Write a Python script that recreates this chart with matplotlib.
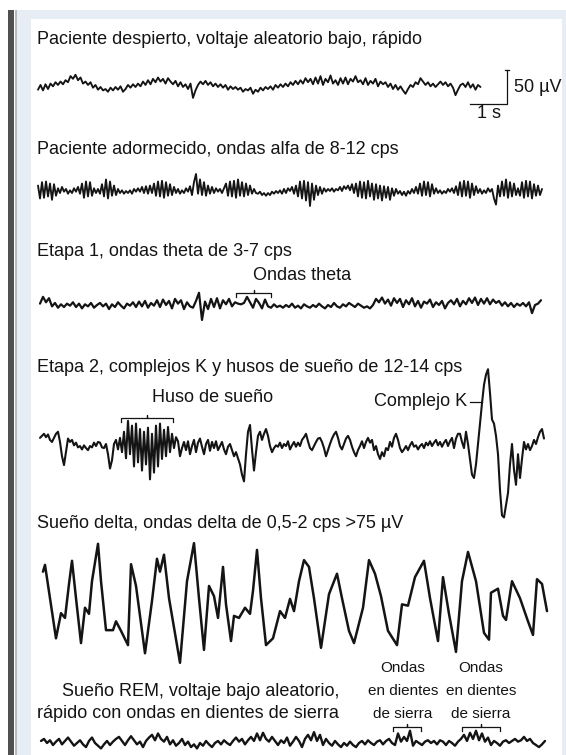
import numpy as np
import matplotlib.pyplot as plt
from matplotlib.patches import Rectangle

plt.rcParams['font.family'] = ['Liberation Sans', 'DejaVu Sans']

W, H = 566, 755
PX_PER_S = 37.0      # 1 s de la barra de escala
PX_PER_UV = 0.68     # 50 uV = 34 px

# ---------------- datos (uV) ----------------
# despierto: intervalo de muestra ~0.068 s
awake_dt = 2.5 / PX_PER_S
awake_uv = [-4, 3, -5, 4, -3, 5, 1, 7, 3, 8,
            4, 10, 7, 16, 12, 18, 10, 14, 5, 8,
            3, 7, -1, 3, -4, 0, -5, -3, -7, -1,
            -5, 0, -4, 1, -7, -3, 3, -1, 4, 0,
            5, 1, 8, 3, 10, 4, 12, 7, 14, 8,
            12, 5, 13, 8, 4, 9, 1, 7, 0, 4,
            -3, 5, -16, -5, 3, 8, 4, 9, 3, 7,
            1, 5, 0, 4, -1, 3, -4, 1, -3, 0,
            -4, -1, -7, -3, -5, -1, -10, -4, -7, -1,
            -5, 0, -3, 1, -4, 3, -1, 4, 0, 5,
            1, 7, 3, 9, 4, 10, 5, 13, 7, 12,
            4, 14, 5, 16, 3, 12, 7, 17, 5, 10,
            3, 13, 5, 14, 4, 12, 8, 16, 7, 10,
            4, 13, 3, 9, 5, 12, 1, 8, 4, 7,
            0, 5, -3, 3, -4, 1, -5, -10, -3, 3,
            0, 7, 4, 13, 8, 3, 7, 1, 5, 0,
            4, 8, 3, 7, 1, 5, -1, -12, -4, 3,
            5, 0, 7, -1, 4, -4, 3, 0]

# adormecido, alfa
alpha_dt = 2.0 / PX_PER_S
alpha_uv = [8, -11, 13, -10, 14, -8, 11, -13, 10, -7,
            4, -3, 6, -1, 3, -4, 1, -3, 4, -1,
            6, -4, 11, -10, 14, -8, 13, -7, 4, -3,
            3, -4, 10, -8, 17, -11, 14, -7, 8, -6,
            3, -3, 1, -4, 0, -3, 1, -4, 3, -1,
            4, -1, 6, -3, 7, -4, 8, -3, 11, -7,
            14, -8, 15, -10, 13, -7, 10, -6, 6, -3,
            3, -4, 1, -3, 4, -1, 7, -6, 13, 25,
            -4, 17, -6, 13, -7, 8, -4, 6, -3, 4,
            -1, 3, -3, 4, 11, -7, 14, -8, 15, -10,
            17, -7, 13, -8, 11, -6, 8, -4, 3, -3,
            -4, -1, -6, -3, -7, -3, -6, -1, -4, 0,
            -3, 1, -4, 3, -3, 4, 0, 6, -4, 8,
            -8, 14, -11, 15, -14, 13, -22, 11, -13, 8,
            -6, 6, -4, 4, -1, 3, 0, 4, -1, 3,
            1, 6, 0, 7, 3, 8, 1, 10, -3, 11,
            -8, 14, -10, 13, -11, 15, -8, 11, -13, 10,
            -11, 8, -14, 7, -10, 6, -13, 4, -7, 3,
            -4, 0, -6, -1, -7, 0, -4, 3, -3, 6,
            -4, 11, -7, 14, -6, 13, -8, 10, -4, 4,
            -3, 1, -4, 0, -3, 3, -1, 4, -3, 7,
            -6, 13, -8, 15, -7, 14, -10, 11, -6, 7,
            -3, 3, -4, 1, -3, 4, -1, 3, -11, -20,
            8, -8, 14, -7, 17, -10, 13, -8, 11, -6,
            4, -7, 13, -10, 15, -8, 14, -11, 10, -7,
            8, -6, 3]

# etapa 1, theta
theta_dt = 3.0 / PX_PER_S
theta_uv = [2, 12, 4, 10, -2, 3, -4, 1, -3, 2,
            -1, 4, -3, 2, -5, 1, -2, 3, -4, 0,
            3, -2, 2, -6, 1, -3, 4, -1, -5, 2,
            -1, 4, -3, 5, -2, 6, -4, 3, -1, 7,
            -3, 8, 0, 6, -5, 9, 2, 7, -6, 4,
            -2, -4, 6, 18, -22, 5, -6, 9, -3, 10,
            -5, 7, 1, 9, -2, 4, 2, 1, 3, 12,
            4, -4, 9, 3, -5, 8, -2, -4, 1, -3,
            -1, -4, 0, -3, 2, -4, -1, -5, 1, -2,
            -4, 0, -3, 2, -2, -5, 0, -3, 3, -2,
            -4, 1, -2, 3, 0, -3, 2, -1, -4, -2,
            -5, 0, 9, 4, 11, 2, 8, -1, 10, 3,
            9, -3, 7, 1, 10, -2, 6, -4, 5, 2,
            8, -3, 4, 0, 6, -5, 3, 7, 1, 9,
            -2, 6, 1, 10, 3, 11, 0, 9, 2, 10,
            1, 8, 3, 6, -1, 4, -2, 3, -3, 2,
            -1, 3, -2, 4, -12, 0, 2, 7]

# etapa 2, husos y complejo K
stage2_dt = 2.0 / PX_PER_S
stage2_uv = [9, 12, 15, 10, 14, 6, 3, 9, 15, 18,
             3, -18, -31, -12, 8, 3, 6, -2, 2, -5,
             -3, -8, -2, -6, -9, -3, -5, 2, -3, 3,
             2, -5, -6, 0, -15, -36, -24, 0, 6, -8,
             9, -12, 18, -21, 34, -15, 27, -33, 30, -27,
             22, -39, 18, -30, 24, -52, 15, -42, 27, -33,
             30, -22, 21, -18, 25, -12, 15, -6, 10, 4,
             -18, -6, 3, -9, 4, -15, -3, 6, -12, 2,
             8, -4, -15, 0, 6, -10, 3, -6, 4, -9,
             -3, 3, -8, -15, -4, 0, -9, -18, -12, -21,
             -30, -45, -55, -15, 18, 28, -8, -39, -12, 12,
             18, 6, 15, 22, 12, -3, -12, -6, -2, -4,
             2, -6, 0, -3, 4, -8, -2, 3, -4, 2,
             -3, 6, 10, 15, 4, -6, -9, -3, 3, 8,
             9, 3, -6, -18, -9, 0, 8, 14, 18, 9,
             -3, -8, 0, 8, 12, 6, -4, -12, -18, -9,
             -3, 4, -6, 3, 9, 2, 6, -9, -3, -15,
             -22, -12, -18, -6, -9, 3, -4, 9, 15, 6,
             -6, -12, -8, -3, -9, -2, 3, -4, -2, -8,
             -3, 0, -6, 2, -2, 4, -3, 2, 6, -2,
             3, -4, 2, 6, -3, 4, 9, -6, 8, 15,
             15, 3, -6, 18, 0, -22, -45, -50, -30, 0,
             30, 60, 87, 102, 110, 75, 36, 30, 12, -15,
             -68, -105, -108, -90, -72, -30, 0, -38, -60, -15,
             -50, -22, 3, -8, 0, -9, -3, 6, 0, 10,
             18, 22, 8]

# sueño delta (vertices, s / uV)
delta_t = [0.135, 0.189, 0.324, 0.486, 0.622, 0.730, 0.838, 0.919, 1.027, 1.162,
           1.270, 1.378, 1.459, 1.622, 1.703, 1.838, 2.027, 2.108, 2.243, 2.432,
           2.514, 2.649, 2.892, 3.081, 3.216, 3.297, 3.405, 3.541, 3.838, 4.027,
           4.216, 4.351, 4.486, 4.622, 4.757, 4.865, 5.000, 5.081, 5.216, 5.297,
           5.432, 5.595, 5.730, 5.811, 5.919, 6.027, 6.162, 6.351, 6.541, 6.676,
           6.811, 6.919, 7.054, 7.189, 7.324, 7.459, 7.649, 7.865, 8.081, 8.216,
           8.405, 8.541, 8.784, 8.946, 9.108, 9.270, 9.459, 9.703, 9.838, 10.000,
           10.189, 10.432, 10.595, 10.811, 10.946, 11.108, 11.297, 11.459, 11.622, 11.838,
           12.054, 12.189, 12.243, 12.432, 12.568, 12.649, 12.811, 13.027, 13.243, 13.378,
           13.486, 13.622, 13.757]
delta_uv = [49, 59, 10, -49, -12, -19, 31, 65, 10, -56,
            -4, -13, 35, 90, 35, -37, -37, -24, -38, -59,
            60, 28, -71, 6, 68, 49, 74, 10, -85, 35,
            91, 10, -66, 28, 13, -19, 56, 1, -53, -16,
            -19, -4, -13, 21, 81, 10, -59, -49, -9, -19,
            9, -9, 35, 66, 56, 10, -63, 16, 46, 10,
            -38, -56, -4, 66, 46, 13, -38, -59, 1, -1,
            41, 65, 10, -53, 41, -13, -69, 35, 78, 35,
            -41, -51, 18, 24, -16, -22, 35, 10, -24, -44,
            38, 31, -9]

# sueño REM
rem_dt = 3.0 / PX_PER_S
rem_uv = [3, 6, 0, 4, -3, 2, 6, -2, 3, 8,
          2, -4, 0, 4, -2, -6, 3, 8, 0, -4,
          -8, -2, 3, -3, 2, 6, 9, 3, -3, 4,
          10, 4, -2, 2, -6, 3, 8, 12, 4, 14,
          6, 2, 9, -2, 4, -4, 0, 6, -3, 2,
          -6, -2, -8, 0, -4, 3, -2, -6, 0, 3,
          -2, 4, 0, -3, 3, 8, 2, 6, -2, 4,
          9, 3, 14, 4, 15, 6, 2, 9, 3, -3,
          4, 0, 8, -4, 2, 9, 3, -6, 6, 12,
          4, 16, 3, 12, -3, 6, 0, -4, 3, -2,
          -6, 0, -4, 2, -3, -6, 0, 3, -2, 4,
          0, -3, 2, 4, -2, 3, 6, 0, -3, 14,
          2, 9, 3, 18, -4, 3, 0, -3, 2, 4,
          0, 3, -2, 4, 2, -3, 3, 0, -4, 2,
          6, 12, 3, 15, 6, 18, 4, 14, 2, 8,
          -3, 3, 0, -4, 2, 4, 0, 3, 6, 2,
          4, 9, 3, 6, 0, -3, -6, -2, 3]

titles = ["Paciente despierto, voltaje aleatorio bajo, rápido",
          "Paciente adormecido, ondas alfa de 8-12 cps",
          "Etapa 1, ondas theta de 3-7 cps",
          "Etapa 2, complejos K y husos de sueño de 12-14 cps",
          "Sueño delta, ondas delta de 0,5-2 cps >75 µV"]

INK = '#141414'

fig = plt.figure(figsize=(W / 100, H / 100), dpi=100)
fig.patch.set_facecolor('white')


def px_rect(x0, y0, x1, y1, color):
    fig.add_artist(Rectangle((x0 / W, 1 - y1 / H), (x1 - x0) / W, (y1 - y0) / H,
                             transform=fig.transFigure, facecolor=color,
                             edgecolor='none', zorder=0))


# marco de la página
px_rect(17, 10, 566, 755, '#e6edf5')
px_rect(31, 19, 562, 755, 'white')
px_rect(8, 10, 14, 755, '#505050')
px_rect(15, 10, 17, 755, '#b8b8b8')

ax = fig.add_axes([0, 0, 1, 1])
ax.set_xlim(0, W / PX_PER_S)
ax.set_ylim(-H / PX_PER_UV, 0)
ax.axis('off')
ax.patch.set_alpha(0)


def P(x, y):
    return x / PX_PER_S, -y / PX_PER_UV


def trace(x0, yc, t, v, lw=1.35):
    t = np.asarray(t, dtype=float)
    v = np.asarray(v, dtype=float)
    ax.plot(x0 / PX_PER_S + t, -yc / PX_PER_UV + v, color=INK, lw=lw,
            solid_joinstyle='round', solid_capstyle='round')


def line_px(xs, ys, lw=0.9):
    pts = [P(x, y) for x, y in zip(xs, ys)]
    ax.plot([p[0] for p in pts], [p[1] for p in pts], color=INK, lw=lw)


def bracket(x0, x1, y):
    xm = (x0 + x1) / 2
    line_px([x0, x0, xm, xm, xm, x1, x1], [y + 4, y, y, y - 3, y, y, y + 4])


def label(x, y, s, size=13, ha='left'):
    fig.text(x / W, 1 - y / H, s, ha=ha, va='center', fontsize=size, color=INK)


trace(38, 87, np.arange(len(awake_uv)) * awake_dt, awake_uv)
trace(38, 191, np.arange(len(alpha_uv)) * alpha_dt, alpha_uv)
trace(40, 305, np.arange(len(theta_uv)) * theta_dt, theta_uv, lw=1.6)
trace(40, 444, np.arange(len(stage2_uv)) * stage2_dt, stage2_uv, lw=1.5)
trace(38, 605, delta_t, delta_uv, lw=1.8)
trace(41, 743, np.arange(len(rem_uv)) * rem_dt, rem_uv, lw=1.7)

# barra de escala 50 uV / 1 s
bx, by = P(507, 104)
ax.plot([bx - 1, bx, bx], [by, by, by + 50], color=INK, lw=0.9)
ax.plot([bx - 0.06, bx + 0.06], [by + 50, by + 50], color=INK, lw=0.9)
label(514, 87, "50 µV")
label(489, 113, "1 s", ha='center')

for y, s in zip([39, 150, 251, 368, 524], titles):
    label(37, y, s)

label(253, 275, "Ondas theta")
bracket(236, 271, 293)

label(152, 397, "Huso de sueño")
bracket(121, 173, 418)
label(467, 402, "Complejo K", ha='right')
line_px([470, 482], [402, 402])

label(339, 691, "Sueño REM, voltaje bajo aleatorio,", ha='right')
label(339, 714, "rápido con ondas en dientes de sierra", ha='right')
for cx, x0, x1 in [(403, 393, 421), (481, 462, 500)]:
    label(cx, 668, "Ondas", size=11, ha='center')
    label(cx, 691, "en dientes", size=11, ha='center')
    label(cx, 714, "de sierra", size=11, ha='center')
    bracket(x0, x1, 727)

fig.savefig("out.png", dpi=100)
